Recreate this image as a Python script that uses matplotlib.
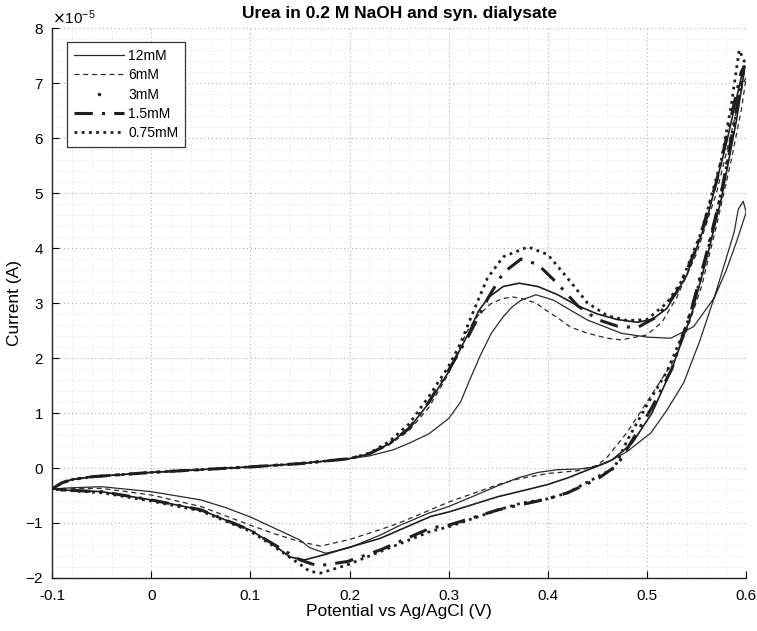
import numpy as np
import matplotlib
matplotlib.use('Agg')
import matplotlib.pyplot as plt
from matplotlib.lines import Line2D
from matplotlib.ticker import ScalarFormatter, MultipleLocator

plt.rcParams['font.family'] = ['Liberation Sans', 'DejaVu Sans']
plt.rcParams['axes.unicode_minus'] = False

# Currents read in units of 1e-5 A
# shared forward scan at low potentials
v_base = [-0.1, -0.09, -0.08, -0.06, -0.03, 0.0, 0.05, 0.1, 0.15, 0.2]
i_base = [-0.38, -0.27, -0.21, -0.16, -0.12, -0.08, -0.03, 0.02, 0.08, 0.17]

# 12 mM
v_12_fwd = [0.22, 0.244, 0.26, 0.28, 0.30, 0.312, 0.32, 0.332, 0.343, 0.355, 0.364, 0.373,
            0.388, 0.406, 0.42, 0.44, 0.46, 0.474, 0.50, 0.524, 0.547, 0.568, 0.58, 0.59, 0.60]
i_12_fwd = [0.22, 0.33, 0.45, 0.62, 0.90, 1.20, 1.55, 2.05, 2.45, 2.75, 2.93, 3.05,
            3.15, 3.05, 2.90, 2.69, 2.55, 2.45, 2.38, 2.36, 2.57, 3.10, 3.60, 4.10, 4.65]
v_12_rev = [0.597, 0.592, 0.588, 0.578, 0.568, 0.553, 0.537, 0.52, 0.504, 0.48, 0.46, 0.448,
            0.43, 0.41, 0.39, 0.37, 0.35, 0.32, 0.30, 0.28, 0.25, 0.231, 0.20, 0.176, 0.16,
            0.15, 0.125, 0.10, 0.075, 0.05, 0.0, -0.05, -0.08, -0.1]
i_12_rev = [4.85, 4.70, 4.30, 3.70, 3.11, 2.30, 1.55, 1.05, 0.64, 0.30, 0.10, 0.02,
            -0.02, -0.03, -0.08, -0.18, -0.32, -0.55, -0.70, -0.82, -1.05, -1.22, -1.45, -1.55, -1.45,
            -1.31, -1.10, -0.89, -0.72, -0.58, -0.43, -0.34, -0.36, -0.38]

# 6 mM
v_6_fwd = [0.22, 0.24, 0.26, 0.28, 0.30, 0.31, 0.319, 0.329, 0.342, 0.354, 0.365, 0.376,
           0.388, 0.398, 0.41, 0.423, 0.44, 0.46, 0.474, 0.50, 0.515, 0.53, 0.55, 0.57,
           0.585, 0.597]
i_6_fwd = [0.25, 0.42, 0.68, 1.10, 1.72, 2.15, 2.50, 2.76, 2.98, 3.08, 3.11, 3.07,
           3.00, 2.87, 2.73, 2.56, 2.45, 2.36, 2.33, 2.42, 2.65, 3.10, 3.90, 5.00,
           6.10, 7.00]
v_6_rev = [0.60, 0.595, 0.585, 0.57, 0.555, 0.54, 0.525, 0.50, 0.48, 0.46, 0.45, 0.43,
           0.40, 0.37, 0.35, 0.30, 0.25, 0.231, 0.20, 0.171, 0.15, 0.125, 0.10, 0.05, 0.0,
           -0.05, -0.08, -0.1]
i_6_rev = [7.10, 6.50, 5.60, 4.40, 3.30, 2.50, 1.90, 1.20, 0.65, 0.20, 0.05, -0.05,
           -0.10, -0.20, -0.30, -0.62, -1.00, -1.12, -1.30, -1.42, -1.34, -1.20, -1.04, -0.70, -0.49,
           -0.37, -0.37, -0.38]

# 3 mM
v_3_fwd = [0.22, 0.24, 0.26, 0.28, 0.30, 0.32, 0.33, 0.34, 0.355, 0.371, 0.39, 0.41,
           0.43, 0.45, 0.47, 0.49, 0.505, 0.52, 0.54, 0.56, 0.58, 0.595]
i_3_fwd = [0.26, 0.44, 0.72, 1.18, 1.75, 2.45, 2.85, 3.10, 3.30, 3.36, 3.30, 3.15,
           2.95, 2.80, 2.70, 2.65, 2.70, 2.90, 3.50, 4.50, 5.90, 7.10]
v_3_rev = [0.598, 0.59, 0.575, 0.56, 0.545, 0.525, 0.505, 0.485, 0.465, 0.448, 0.42, 0.40,
           0.373, 0.35, 0.30, 0.282, 0.231, 0.198, 0.176, 0.155, 0.14, 0.12, 0.10, 0.05, 0.0,
           -0.05, -0.09, -0.1]
i_3_rev = [7.20, 6.30, 4.90, 3.80, 2.80, 1.80, 1.00, 0.45, 0.15, 0.02, -0.18, -0.30,
           -0.42, -0.52, -0.80, -0.88, -1.28, -1.45, -1.57, -1.67, -1.62, -1.35, -1.13, -0.76, -0.58,
           -0.43, -0.40, -0.38]

# 1.5 mM
v_15_fwd = [0.22, 0.24, 0.26, 0.28, 0.30, 0.32, 0.34, 0.355, 0.373, 0.39, 0.41, 0.43,
            0.45, 0.47, 0.49, 0.51, 0.53, 0.55, 0.57, 0.585, 0.595]
i_15_fwd = [0.26, 0.44, 0.72, 1.20, 1.78, 2.40, 3.10, 3.55, 3.80, 3.70, 3.35, 2.95,
            2.70, 2.58, 2.55, 2.75, 3.20, 4.00, 5.20, 6.40, 7.20]
v_15_rev = [0.598, 0.59, 0.575, 0.56, 0.545, 0.525, 0.505, 0.485, 0.47, 0.45, 0.42, 0.40,
            0.35, 0.30, 0.282, 0.231, 0.198, 0.168, 0.15, 0.12, 0.10, 0.05, 0.0, -0.05,
            -0.09, -0.1]
i_15_rev = [7.30, 6.50, 5.00, 3.90, 2.90, 1.80, 1.10, 0.50, 0.05, -0.20, -0.45, -0.56,
            -0.76, -1.04, -1.09, -1.49, -1.70, -1.78, -1.67, -1.35, -1.13, -0.76, -0.58, -0.43,
            -0.40, -0.38]

# 0.75 mM
v_075_fwd = [0.22, 0.24, 0.26, 0.28, 0.30, 0.312, 0.325, 0.339, 0.355, 0.38, 0.40, 0.42,
             0.44, 0.46, 0.48, 0.50, 0.52, 0.535, 0.555, 0.575, 0.585, 0.593]
i_075_fwd = [0.27, 0.48, 0.80, 1.30, 1.85, 2.27, 2.85, 3.45, 3.84, 4.02, 3.88, 3.45,
             3.00, 2.77, 2.68, 2.70, 3.00, 3.40, 4.30, 5.60, 6.60, 7.60]
v_075_rev = [0.598, 0.595, 0.585, 0.57, 0.555, 0.54, 0.52, 0.50, 0.48, 0.467, 0.448, 0.42,
             0.40, 0.373, 0.35, 0.30, 0.282, 0.231, 0.198, 0.171, 0.16, 0.15, 0.12, 0.10,
             0.05, 0.0, -0.05, -0.09, -0.1]
i_075_rev = [7.40, 7.00, 5.90, 4.60, 3.50, 2.60, 1.75, 1.15, 0.50, 0.00, -0.18, -0.45,
             -0.56, -0.64, -0.76, -1.07, -1.15, -1.52, -1.76, -1.91, -1.88, -1.75, -1.38, -1.15,
             -0.78, -0.60, -0.45, -0.40, -0.38]

labels = ['12mM', '6mM', '3mM', '1.5mM', '0.75mM']
x_ticks = [-0.1, 0.0, 0.1, 0.2, 0.3, 0.4, 0.5, 0.6]
x_tick_labels = ['-0.1', '0', '0.1', '0.2', '0.3', '0.4', '0.5', '0.6']
y_ticks = [-2, -1, 0, 1, 2, 3, 4, 5, 6, 7, 8]


def loop(vf, if_, vr, ir):
    v = np.concatenate([v_base, vf, vr])
    i = np.concatenate([i_base, if_, ir]) * 1e-5
    return v, i


curves = [
    loop(v_12_fwd, i_12_fwd, v_12_rev, i_12_rev),
    loop(v_6_fwd, i_6_fwd, v_6_rev, i_6_rev),
    loop(v_3_fwd, i_3_fwd, v_3_rev, i_3_rev),
    loop(v_15_fwd, i_15_fwd, v_15_rev, i_15_rev),
    loop(v_075_fwd, i_075_fwd, v_075_rev, i_075_rev),
]

styles = [
    dict(color='#2a2a2a', ls='-', lw=0.9),
    dict(color='#2a2a2a', ls=(0, (4, 3)), lw=0.9),
    dict(color='#1e1e1e', ls='-', lw=1.2),
    dict(color='#1e1e1e', ls=(0, (6, 3, 1, 3)), lw=2.2),
    dict(color='#1e1e1e', ls=(0, (1, 1.6)), lw=2.0),
]

fig = plt.figure(figsize=(7.57, 6.31), dpi=100)
ax = fig.add_axes([0.0687, 0.084, 0.917, 0.8716])

for (v, i), st in zip(curves, styles):
    ax.plot(v, i, **st)

ax.set_xlim(-0.1, 0.6)
ax.set_ylim(-2e-5, 8e-5)
ax.set_xticks(x_ticks)
ax.set_xticklabels(x_tick_labels)
ax.set_yticks([t * 1e-5 for t in y_ticks])
fmt = ScalarFormatter(useMathText=True)
fmt.set_powerlimits((0, 0))
ax.yaxis.set_major_formatter(fmt)
ax.yaxis.get_offset_text().set_fontsize(11)

ax.xaxis.set_minor_locator(MultipleLocator(0.02))
ax.yaxis.set_minor_locator(MultipleLocator(0.2e-5))
ax.tick_params(which='major', direction='in', length=5, labelsize=11, width=0.8)
ax.tick_params(axis='x', which='major', pad=8)
ax.tick_params(axis='y', which='major', pad=6)
ax.tick_params(which='minor', length=0)
ax.grid(True, which='major', color='#b0b0b0', ls=(0, (1, 2.5)), lw=0.8)
ax.grid(True, which='minor', color='#d8d8d8', ls=(0, (1, 3)), lw=0.6)
ax.set_axisbelow(True)

for s in ['top', 'right']:
    ax.spines[s].set_visible(False)
for s in ['left', 'bottom']:
    ax.spines[s].set_linewidth(1.0)
    ax.spines[s].set_color('#222222')

ax.set_xlabel('Potential vs Ag/AgCl (V)', fontsize=12.5, labelpad=1)
ax.set_ylabel('Current (A)', fontsize=12.5, labelpad=2)
ax.set_title('Urea in 0.2 M NaOH and syn. dialysate', fontsize=12.5, fontweight='bold', pad=7)

handles = [
    Line2D([], [], **styles[0]),
    Line2D([], [], **styles[1]),
    Line2D([], [], color='#1e1e1e', ls='none', marker='.', markersize=3),
    Line2D([], [], **styles[3]),
    Line2D([], [], **styles[4]),
]
leg = ax.legend(handles, labels, loc='upper left', bbox_to_anchor=(0.012, 0.987),
                fontsize=10, frameon=True, fancybox=False, edgecolor='#333333',
                framealpha=1, handlelength=3.6, labelspacing=0.38, borderpad=0.5,
                handletextpad=0.3)
leg.get_frame().set_linewidth(0.9)

fig.savefig('out.png', dpi=100, facecolor='white')
